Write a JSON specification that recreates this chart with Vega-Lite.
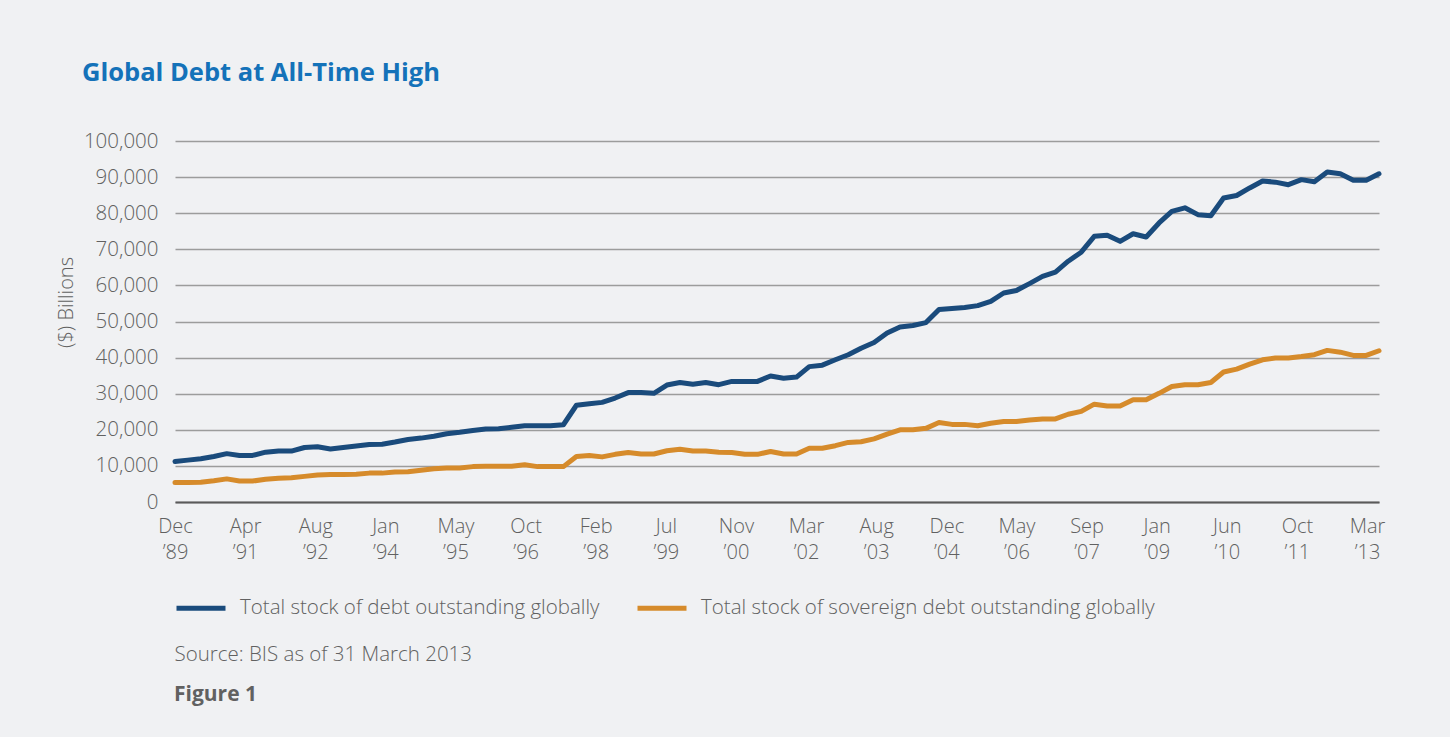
{
  "$schema": "https://vega.github.io/schema/vega-lite/v6.json",
  "width": 1204,
  "height": 361,
  "autosize": {"type": "none"},
  "padding": {"left": 175, "top": 141, "right": 71, "bottom": 235},
  "background": "#f0f1f3",
  "title": {
    "text": "Global Debt at All-Time High",
    "anchor": "start",
    "frame": "group",
    "dx": -93,
    "font": "Open Sans",
    "fontSize": 25.5,
    "fontWeight": "bold",
    "color": "#1472b9",
    "baseline": "alphabetic",
    "offset": 25
  },
  "data": {
    "values": [
      {"date": "1989-12-01", "total": 11200, "sovereign": 5400},
      {"date": "1990-03-01", "total": 11600, "sovereign": 5400},
      {"date": "1990-06-01", "total": 12000, "sovereign": 5500},
      {"date": "1990-09-01", "total": 12600, "sovereign": 5900},
      {"date": "1990-12-01", "total": 13400, "sovereign": 6400},
      {"date": "1991-03-01", "total": 12900, "sovereign": 5800},
      {"date": "1991-06-01", "total": 12900, "sovereign": 5800},
      {"date": "1991-09-01", "total": 13800, "sovereign": 6300},
      {"date": "1991-12-01", "total": 14100, "sovereign": 6600},
      {"date": "1992-03-01", "total": 14100, "sovereign": 6700},
      {"date": "1992-06-01", "total": 15100, "sovereign": 7100},
      {"date": "1992-09-01", "total": 15300, "sovereign": 7500},
      {"date": "1992-12-01", "total": 14700, "sovereign": 7600},
      {"date": "1993-03-01", "total": 15100, "sovereign": 7600},
      {"date": "1993-06-01", "total": 15500, "sovereign": 7700},
      {"date": "1993-09-01", "total": 15900, "sovereign": 8000},
      {"date": "1993-12-01", "total": 16000, "sovereign": 8000},
      {"date": "1994-03-01", "total": 16600, "sovereign": 8300},
      {"date": "1994-06-01", "total": 17300, "sovereign": 8400},
      {"date": "1994-09-01", "total": 17700, "sovereign": 8800},
      {"date": "1994-12-01", "total": 18200, "sovereign": 9200},
      {"date": "1995-03-01", "total": 18900, "sovereign": 9400},
      {"date": "1995-06-01", "total": 19300, "sovereign": 9400},
      {"date": "1995-09-01", "total": 19800, "sovereign": 9800},
      {"date": "1995-12-01", "total": 20200, "sovereign": 9900},
      {"date": "1996-03-01", "total": 20300, "sovereign": 9900},
      {"date": "1996-06-01", "total": 20700, "sovereign": 9900},
      {"date": "1996-09-01", "total": 21100, "sovereign": 10300},
      {"date": "1996-12-01", "total": 21100, "sovereign": 9800},
      {"date": "1997-03-01", "total": 21100, "sovereign": 9800},
      {"date": "1997-06-01", "total": 21400, "sovereign": 9800},
      {"date": "1997-09-01", "total": 26800, "sovereign": 12600},
      {"date": "1997-12-01", "total": 27200, "sovereign": 12900},
      {"date": "1998-03-01", "total": 27600, "sovereign": 12500},
      {"date": "1998-06-01", "total": 28800, "sovereign": 13200},
      {"date": "1998-09-01", "total": 30300, "sovereign": 13700},
      {"date": "1998-12-01", "total": 30300, "sovereign": 13300},
      {"date": "1999-03-01", "total": 30100, "sovereign": 13300},
      {"date": "1999-06-01", "total": 32400, "sovereign": 14200},
      {"date": "1999-09-01", "total": 33100, "sovereign": 14600},
      {"date": "1999-12-01", "total": 32600, "sovereign": 14100},
      {"date": "2000-03-01", "total": 33100, "sovereign": 14100},
      {"date": "2000-06-01", "total": 32500, "sovereign": 13800},
      {"date": "2000-09-01", "total": 33400, "sovereign": 13700},
      {"date": "2000-12-01", "total": 33400, "sovereign": 13200},
      {"date": "2001-03-01", "total": 33400, "sovereign": 13200},
      {"date": "2001-06-01", "total": 34900, "sovereign": 14000},
      {"date": "2001-09-01", "total": 34300, "sovereign": 13300},
      {"date": "2001-12-01", "total": 34600, "sovereign": 13300},
      {"date": "2002-03-01", "total": 37500, "sovereign": 14900},
      {"date": "2002-06-01", "total": 37900, "sovereign": 14900},
      {"date": "2002-09-01", "total": 39400, "sovereign": 15600},
      {"date": "2002-12-01", "total": 40800, "sovereign": 16500},
      {"date": "2003-03-01", "total": 42600, "sovereign": 16700},
      {"date": "2003-06-01", "total": 44200, "sovereign": 17500},
      {"date": "2003-09-01", "total": 46800, "sovereign": 18800},
      {"date": "2003-12-01", "total": 48500, "sovereign": 20000},
      {"date": "2004-03-01", "total": 48900, "sovereign": 20000},
      {"date": "2004-06-01", "total": 49700, "sovereign": 20400},
      {"date": "2004-09-01", "total": 53300, "sovereign": 22000},
      {"date": "2004-12-01", "total": 53600, "sovereign": 21500},
      {"date": "2005-03-01", "total": 53900, "sovereign": 21500},
      {"date": "2005-06-01", "total": 54400, "sovereign": 21100},
      {"date": "2005-09-01", "total": 55600, "sovereign": 21800},
      {"date": "2005-12-01", "total": 57900, "sovereign": 22300},
      {"date": "2006-03-01", "total": 58600, "sovereign": 22300},
      {"date": "2006-06-01", "total": 60500, "sovereign": 22700},
      {"date": "2006-09-01", "total": 62500, "sovereign": 23000},
      {"date": "2006-12-01", "total": 63700, "sovereign": 23000},
      {"date": "2007-03-01", "total": 66700, "sovereign": 24300},
      {"date": "2007-06-01", "total": 69200, "sovereign": 25100},
      {"date": "2007-09-01", "total": 73600, "sovereign": 27100},
      {"date": "2007-12-01", "total": 73900, "sovereign": 26600},
      {"date": "2008-03-01", "total": 72200, "sovereign": 26600},
      {"date": "2008-06-01", "total": 74300, "sovereign": 28300},
      {"date": "2008-09-01", "total": 73400, "sovereign": 28300},
      {"date": "2008-12-01", "total": 77300, "sovereign": 30100},
      {"date": "2009-03-01", "total": 80500, "sovereign": 32000},
      {"date": "2009-06-01", "total": 81500, "sovereign": 32500},
      {"date": "2009-09-01", "total": 79600, "sovereign": 32500},
      {"date": "2009-12-01", "total": 79300, "sovereign": 33100},
      {"date": "2010-03-01", "total": 84200, "sovereign": 36000},
      {"date": "2010-06-01", "total": 84900, "sovereign": 36800},
      {"date": "2010-09-01", "total": 87000, "sovereign": 38200},
      {"date": "2010-12-01", "total": 88900, "sovereign": 39400},
      {"date": "2011-03-01", "total": 88600, "sovereign": 39900},
      {"date": "2011-06-01", "total": 87900, "sovereign": 39900},
      {"date": "2011-09-01", "total": 89300, "sovereign": 40300},
      {"date": "2011-12-01", "total": 88700, "sovereign": 40800},
      {"date": "2012-03-01", "total": 91400, "sovereign": 42000},
      {"date": "2012-06-01", "total": 90900, "sovereign": 41500},
      {"date": "2012-09-01", "total": 89100, "sovereign": 40600},
      {"date": "2012-12-01", "total": 89100, "sovereign": 40600},
      {"date": "2013-03-01", "total": 90900, "sovereign": 41900}
    ]
  },
  "transform": [{"fold": ["total", "sovereign"], "as": ["series", "value"]}],
  "mark": {"type": "line", "strokeWidth": 5, "strokeJoin": "round", "strokeCap": "round"},
  "encoding": {
    "x": {
      "field": "date",
      "type": "temporal",
      "axis": {
        "values": [628473600000, 671199000000, 713924400000, 756649800000, 799375200000, 842100600000, 884826000000, 927551400000, 970276800000, 1013002200000, 1055727600000, 1098453000000, 1141178400000, 1183903800000, 1226629200000, 1269354600000, 1312080000000, 1354805400000],
        "labelExpr": "[['Dec','\u201989'],['Apr','\u201991'],['Aug','\u201992'],['Jan','\u201994'],['May','\u201995'],['Oct','\u201996'],['Feb','\u201998'],['Jul','\u201999'],['Nov','\u201900'],['Mar','\u201902'],['Aug','\u201903'],['Dec','\u201904'],['May','\u201906'],['Sep','\u201907'],['Jan','\u201909'],['Jun','\u201910'],['Oct','\u201911'],['Mar','\u201913']][round(datum.index*17)]",
        "labelFont": "Open Sans",
        "labelFontSize": 20,
        "labelFontWeight": 300,
        "labelColor": "#616161",
        "labelLineHeight": 26,
        "labelBaseline": "top",
        "labelPadding": 14,
        "labelAlign": "center",
        "labelOverlap": false,
        "labelFlush": false,
        "ticks": false,
        "grid": false,
        "domain": true,
        "domainColor": "#5a5a5a",
        "domainWidth": 2,
        "title": "Source: BIS as of 31 March 2013",
        "titleFont": "Open Sans",
        "titleFontSize": 20.5,
        "titleFontWeight": 300,
        "titleColor": "#616161",
        "titleAnchor": "start",
        "titleAlign": "left",
        "titleBaseline": "alphabetic",
        "titleX": -1,
        "titleY": 158
      }
    },
    "y": {
      "field": "value",
      "type": "quantitative",
      "scale": {"domain": [0, 100000]},
      "axis": {
        "values": [0, 10000, 20000, 30000, 40000, 50000, 60000, 70000, 80000, 90000, 100000],
        "format": ",d",
        "labelFont": "Open Sans",
        "labelFontSize": 20.5,
        "labelFontWeight": 300,
        "labelColor": "#616161",
        "labelPadding": 17,
        "ticks": false,
        "domain": false,
        "grid": true,
        "gridColor": "#9c9c9c",
        "gridWidth": 1.5,
        "title": "($) Billions",
        "titleFont": "Open Sans",
        "titleFontSize": 20,
        "titleFontWeight": 300,
        "titleColor": "#616161",
        "titleAngle": -90,
        "titleAlign": "center",
        "titleBaseline": "middle",
        "titleX": -109,
        "titleY": 161
      }
    },
    "color": {
      "field": "series",
      "type": "nominal",
      "scale": {"domain": ["total", "sovereign"], "range": ["#1a4b7c", "#d68b2b"]},
      "legend": {
        "orient": "none",
        "legendX": -1,
        "legendY": 440,
        "direction": "horizontal",
        "symbolType": "stroke",
        "symbolSize": 2400,
        "symbolStrokeWidth": 5,
        "labelExpr": "datum.label == 'total' ? 'Total stock of debt outstanding globally' : 'Total stock of sovereign debt outstanding globally'",
        "labelFont": "Open Sans",
        "labelFontSize": 20.5,
        "labelFontWeight": 300,
        "labelColor": "#616161",
        "labelOffset": 12,
        "labelLimit": 0,
        "columnPadding": 27,
        "title": "Figure 1",
        "titleOrient": "bottom",
        "titleFont": "Open Sans",
        "titleFontSize": 21,
        "titleFontWeight": "bold",
        "titleColor": "#616161",
        "titlePadding": 65
      }
    }
  },
  "config": {"view": {"stroke": null}}
}
